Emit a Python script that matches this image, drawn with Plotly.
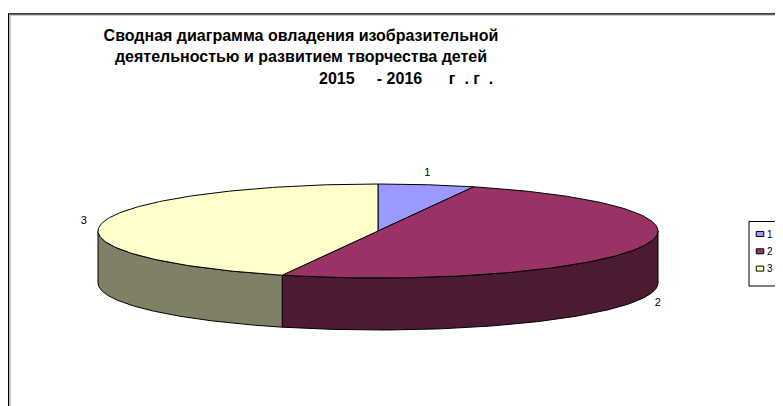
import numpy as np
import plotly.graph_objects as go

# ---- data ----
categories = ["1", "2", "3"]
values = [2, 18, 16]
title_lines = [
    "Сводная диаграмма овладения изобразительной",
    "деятельностью и развитием творчества детей",
]
title_years = ("2015" + "\u00a0" * 5 + "- 2016" + "\u00a0" * 6
               + "г\u00a0\u00a0.\u00a0г\u00a0\u00a0.")

# ---- style ----
top_colors = ["#9999FF", "#993366", "#FFFFCC"]
side_colors = ["#4D4D80", "#4D1A33", "#808066"]
W, H = 783, 406
CX, CY, RX, RY, DEPTH = 370, 223, 280, 47, 52
FONT = "Arial, Liberation Sans, sans-serif"


def ell(t_deg, dy=0.0):
    t = np.radians(t_deg)
    return CX + RX * np.cos(t), CY - RY * np.sin(t) + dy


total = float(sum(values))
cum = np.cumsum([0] + values)
starts = 90 - 360 * cum[:-1] / total
ends = 90 - 360 * cum[1:] / total

fig = go.Figure()

# side walls (front half only)
for i in range(len(values)):
    lo = max(ends[i], -180.0)
    hi = min(starts[i], 0.0)
    if lo < hi:
        ts = np.linspace(hi, lo, 120)
        xt, yt = ell(ts)
        xb, yb = ell(ts[::-1], DEPTH)
        xs = list(xt) + list(xb) + [xt[0]]
        ys = list(yt) + list(yb) + [yt[0]]
        fig.add_trace(go.Scatter(x=xs, y=ys, mode="lines", fill="toself",
                                 fillcolor=side_colors[i],
                                 line=dict(color="black", width=1),
                                 hoverinfo="skip", showlegend=False))

# top faces
for i in range(len(values)):
    ts = np.linspace(starts[i], ends[i], 160)
    xa, ya = ell(ts)
    xs = [CX] + list(xa) + [CX]
    ys = [CY] + list(ya) + [CY]
    fig.add_trace(go.Scatter(x=xs, y=ys, mode="lines", fill="toself",
                             fillcolor=top_colors[i],
                             line=dict(color="black", width=1),
                             name=categories[i], hoverinfo="skip",
                             showlegend=False))

# data labels
mids = (starts + ends) / 2
lx, ly = [], []
for m in mids:
    s = np.sin(np.radians(m))
    c = np.cos(np.radians(m))
    px, py = ell(m, DEPTH if s < 0 else 0)
    lx.append(px + 19 * c * abs(c))
    ly.append(py - 12 * s)
fig.add_trace(go.Scatter(x=lx, y=ly, mode="text", text=categories,
                         textfont=dict(family=FONT, size=11, color="black"),
                         hoverinfo="skip", showlegend=False))

# ---- legend (box with keys) ----
LEG_X, LEG_Y0, LEG_Y1 = 741, 213.5, 278
KEY_CX, KEY_W, KEY_H, ROW0, ROW_STEP, TXT_X = 752, 7.5, 5, 226, 17.3, 758
shapes = [
    dict(type="rect", xref="x", yref="y", x0=2, y0=H + 20, x1=W + 20, y1=7,
         line=dict(color="#A0A0A0", width=1), layer="below"),
    dict(type="rect", xref="x", yref="y", x0=0.5, y0=H + 20, x1=W + 20,
         y1=5.8, line=dict(color="black", width=1.2), layer="below"),
    dict(type="rect", xref="x", yref="y", x0=LEG_X, y0=LEG_Y0, x1=W + 20,
         y1=LEG_Y1, line=dict(color="black", width=1), fillcolor="white",
         layer="above"),
]
annotations = []
for i, cat in enumerate(categories):
    yc = ROW0 + i * ROW_STEP
    shapes.append(dict(type="rect", xref="x", yref="y",
                       x0=KEY_CX - KEY_W / 2, x1=KEY_CX + KEY_W / 2,
                       y0=yc - KEY_H / 2, y1=yc + KEY_H / 2,
                       fillcolor=top_colors[i],
                       line=dict(color="black", width=1), layer="above"))
    annotations.append(dict(text=cat, x=TXT_X, y=yc, xref="x", yref="y",
                            xanchor="left", yanchor="middle", showarrow=False,
                            borderpad=0,
                            font=dict(family=FONT, size=10, color="black")))

annotations.append(dict(text=title_years, x=309 / W, y=1 - 70.5 / H,
                        xref="paper", yref="paper", xanchor="left",
                        yanchor="middle", showarrow=False,
                        font=dict(family=FONT, size=16, color="black",
                                  weight="bold")))

fig.update_layout(
    width=W, height=H,
    margin=dict(l=0, r=0, t=0, b=0, autoexpand=False),
    paper_bgcolor="white", plot_bgcolor="white",
    xaxis=dict(range=[0, W], visible=False, fixedrange=True),
    yaxis=dict(range=[H, 0], visible=False, fixedrange=True),
    title=dict(text="<br>".join(title_lines), x=293 / W, xanchor="center",
               y=1 - 33 / H, yanchor="top", xref="paper",
               font=dict(family=FONT, size=16, color="black", weight="bold")),
    annotations=annotations,
    shapes=shapes,
    showlegend=False,
)

fig.write_html("out.html")
